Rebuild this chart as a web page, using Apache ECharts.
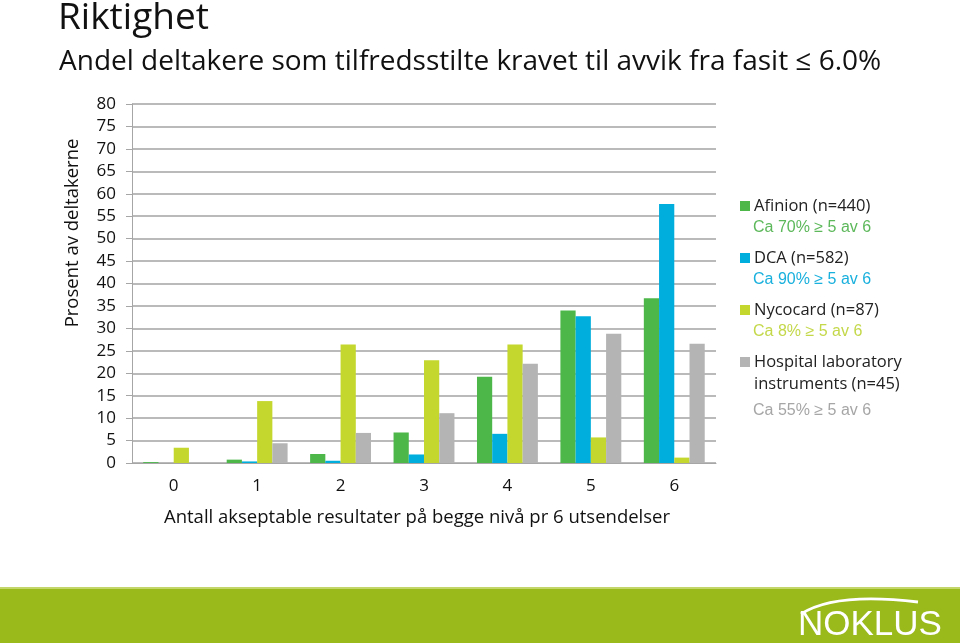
<!DOCTYPE html>
<html>
<head>
<meta charset="utf-8">
<script src="https://cdn.jsdelivr.net/npm/echarts@6/dist/echarts.min.js"></script>
<style>
  html, body { margin: 0; padding: 0; background: #fff; }
  #chart { width: 960px; height: 643px; }
</style>
</head>
<body>
<div id="chart"></div>
<script>
const categories = ["0", "1", "2", "3", "4", "5", "6"];
const seriesNames = ["Afinion (n=440)", "DCA (n=582)", "Nycocard (n=87)", "Hospital laboratory\ninstruments (n=45)"];
const seriesNotes = ["Ca 70% \u2265 5 av 6", "Ca 90% \u2265 5 av 6", "Ca 8% \u2265 5 av 6", "Ca 55% \u2265 5 av 6"];
const afinion = [0.2, 0.75, 2.0, 6.8, 19.2, 34.0, 36.7];
const dca = [0, 0.35, 0.5, 1.9, 6.5, 32.7, 57.7];
const nycocard = [3.4, 13.8, 26.4, 22.9, 26.4, 5.7, 1.2];
const hospital = [0, 4.4, 6.7, 11.1, 22.1, 28.8, 26.6];
const colors = ["#4db74a", "#00aede", "#c4d72e", "#b4b4b4"];
const noteColors = ["#5cb85a", "#19b0dd", "#c4d84a", "#a6a6a6"];

const font = "'Open Sans', 'Noto Sans', sans-serif";
const values = [afinion, dca, nycocard, hospital];

// legend drawn as graphic: square + name + coloured note
const legendGraphic = [];
let ly = 206;
seriesNames.forEach((name, i) => {
  legendGraphic.push({
    type: "rect", left: 740, top: ly - 5,
    shape: { width: 10, height: 10 },
    style: { fill: colors[i] }
  });
  const lines = name.split("\n").length;
  legendGraphic.push({
    type: "text", left: 754, top: ly - 11,
    style: { text: name, font: "16.5px " + font, fill: "#222", lineHeight: 22 }
  });
  const noteY = ly + 22 * lines + (lines > 1 ? 6 : 1);
  legendGraphic.push({
    type: "text", left: 753, top: noteY - 9,
    style: { text: seriesNotes[i], font: "16px 'Liberation Sans', Arial, sans-serif", fill: noteColors[i] }
  });
  ly = noteY + 29;
});

const chart = echarts.init(document.getElementById("chart"));
chart.setOption({
  backgroundColor: "#fff",
  animation: false,
  textStyle: { fontFamily: font },
  grid: { left: 132, right: 244, top: 104, bottom: 180 },
  xAxis: {
    type: "category",
    data: categories,
    name: "Antall akseptable resultater på begge nivå pr 6 utsendelser",
    nameLocation: "middle",
    nameGap: 45,
    nameTextStyle: { fontSize: 18.5, color: "#111", fontFamily: font, padding: [0, 14, 0, 0] },
    axisLine: { lineStyle: { color: "#a6a6a6" } },
    axisTick: { show: false },
    axisLabel: { fontSize: 17, color: "#111", margin: 15 }
  },
  yAxis: {
    type: "value",
    min: 0, max: 80, interval: 5,
    axisLine: { show: true, lineStyle: { color: "#a6a6a6" } },
    axisTick: { show: true, length: 6, lineStyle: { color: "#a6a6a6" } },
    axisLabel: { fontSize: 17, color: "#111", margin: 16 },
    splitLine: { lineStyle: { color: "#a3a3a3", width: 1.5 } }
  },
  series: seriesNames.map((name, i) => ({
    name: name,
    type: "bar",
    data: values[i],
    itemStyle: { color: colors[i] },
    barGap: "0%",
    barCategoryGap: "27%"
  })),
  graphic: [
    { type: "text", left: 58, top: 0,
      style: { text: "Riktighet", font: "37px " + font, fill: "#111" } },
    { type: "text", left: 59, top: 48,
      style: { text: "Andel deltakere som tilfredsstilte kravet til avvik fra fasit \u2264 6.0%", font: "28px " + font, fill: "#111" } },
    { type: "text", x: 73, y: 233, rotation: Math.PI / 2,
      style: { text: "Prosent av deltakerne", font: "18.5px " + font, fill: "#111", align: "center", verticalAlign: "middle" } },
    { type: "rect", left: 0, top: 588, shape: { width: 960, height: 55 },
      style: { fill: "#9ab91b" } },
    { type: "rect", left: 0, top: 587, shape: { width: 960, height: 2 },
      style: { fill: "#c2d66a" } },
    { type: "bezierCurve", shape: { x1: 801, y1: 614, cpx1: 835, cpy1: 592, x2: 918, y2: 602 },
      style: { stroke: "#fff", lineWidth: 3, fill: null } },
    { type: "text", left: 798, top: 608,
      style: { text: "NOKLUS", font: "35px 'Liberation Sans', Arial, sans-serif", fill: "#fff", letterSpacing: 2 } }
  ].concat(legendGraphic)
});
</script>
</body>
</html>
